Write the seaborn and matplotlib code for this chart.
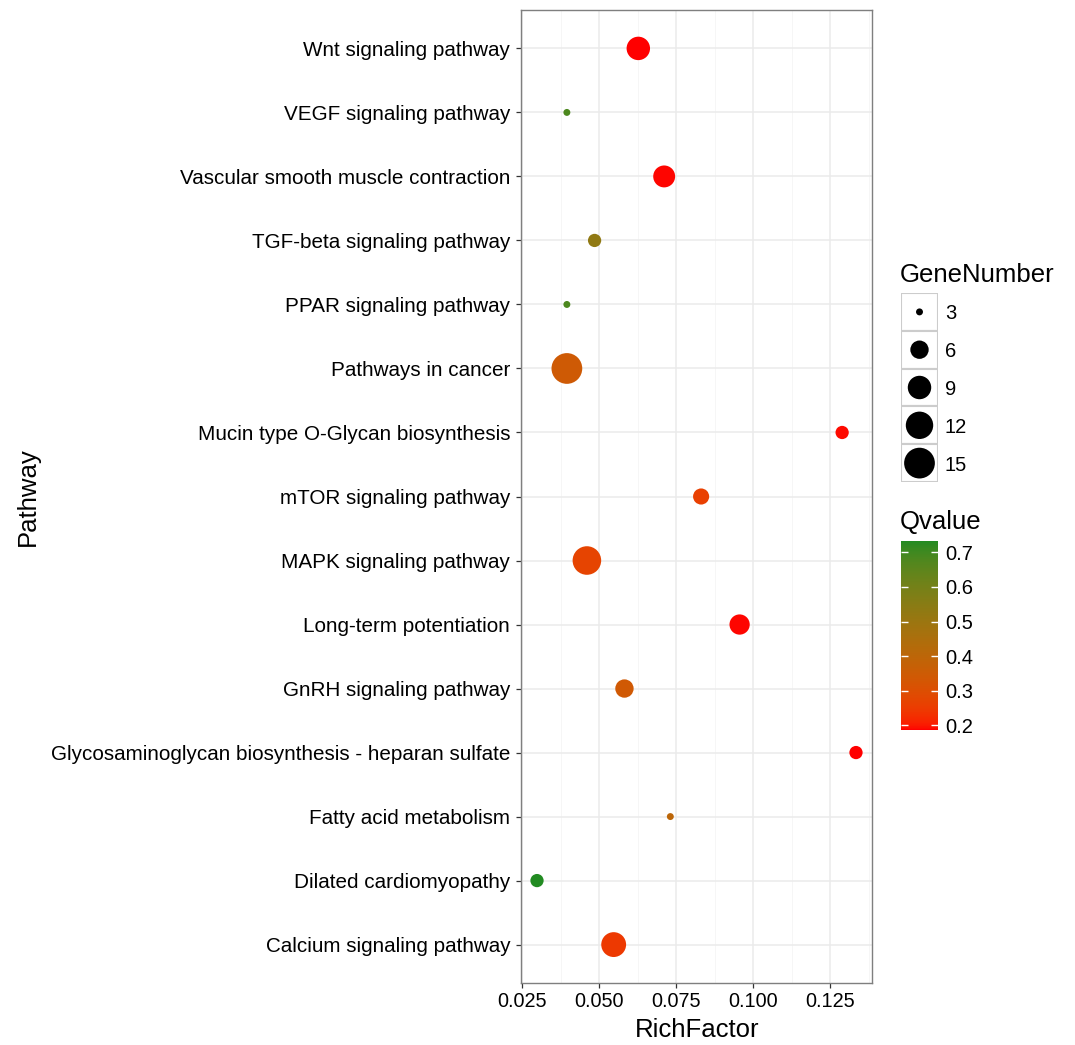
import numpy as np
import pandas as pd
import matplotlib
matplotlib.use("Agg")
import matplotlib.pyplot as plt
import matplotlib.colors as mcolors
from matplotlib.patches import Rectangle
import seaborn as sns

# data, bottom to top as in the figure
pathways = [
    "Calcium signaling pathway",
    "Dilated cardiomyopathy",
    "Fatty acid metabolism",
    "Glycosaminoglycan biosynthesis - heparan sulfate",
    "GnRH signaling pathway",
    "Long-term potentiation",
    "MAPK signaling pathway",
    "mTOR signaling pathway",
    "Mucin type O-Glycan biosynthesis",
    "Pathways in cancer",
    "PPAR signaling pathway",
    "TGF-beta signaling pathway",
    "Vascular smooth muscle contraction",
    "VEGF signaling pathway",
    "Wnt signaling pathway",
]
rich_factor = [0.0547, 0.0298, 0.0731, 0.1334, 0.0582, 0.0956, 0.0460, 0.0831,
               0.1289, 0.0395, 0.0395, 0.0485, 0.0711, 0.0395, 0.0627]
gene_number = [10, 4, 3, 4, 6, 7, 13, 5, 4, 15, 3, 4, 8, 3, 9]
qvalue = [0.245, 0.733, 0.40, 0.187, 0.34, 0.190, 0.27, 0.26,
          0.192, 0.345, 0.68, 0.53, 0.189, 0.68, 0.186]

legend_sizes = [3, 6, 9, 12, 15]
q_ticks = [0.2, 0.3, 0.4, 0.5, 0.6, 0.7]

df = pd.DataFrame({"Pathway": pathways, "RichFactor": rich_factor,
                   "GeneNumber": gene_number, "Qvalue": qvalue})


# red -> forestgreen gradient interpolated in CIELAB (like ggplot)
M = np.array([[0.4124, 0.3576, 0.1805],
              [0.2126, 0.7152, 0.0722],
              [0.0193, 0.1192, 0.9505]])
WHITE = M @ np.ones(3)
D = 6 / 29


def to_lab(rgb):
    c = np.asarray(rgb, float)
    lin = np.where(c <= 0.04045, c / 12.92, ((c + 0.055) / 1.055) ** 2.4)
    t = (M @ lin) / WHITE
    f = np.where(t > D ** 3, np.cbrt(t), t / (3 * D ** 2) + 4 / 29)
    return np.array([116 * f[1] - 16, 500 * (f[0] - f[1]), 200 * (f[1] - f[2])])


def from_lab(lab):
    L, a, b = lab
    fy = (L + 16) / 116
    f = np.array([fy + a / 500, fy, fy - b / 200])
    t = np.where(f > D, f ** 3, 3 * D ** 2 * (f - 4 / 29))
    lin = np.linalg.solve(M, t * WHITE)
    lin = np.clip(lin, 0, 1)
    return np.where(lin <= 0.0031308, 12.92 * lin, 1.055 * lin ** (1 / 2.4) - 0.055)


lo_lab = to_lab(mcolors.to_rgb("red"))
hi_lab = to_lab(mcolors.to_rgb("forestgreen"))
ramp = [from_lab(lo_lab + (hi_lab - lo_lab) * t) for t in np.linspace(0, 1, 256)]
cmap = mcolors.ListedColormap(np.clip(ramp, 0, 1))
q_norm = mcolors.Normalize(vmin=min(qvalue), vmax=max(qvalue))

# ggplot-like area scale for point size
size_norm = mcolors.FuncNorm(
    (lambda n: (1 + 5 * np.sqrt(np.clip((np.asarray(n, float) - 3) / 12, 0, None))) ** 2,
     lambda a: 3 + 12 * ((np.sqrt(np.asarray(a, float)) - 1) / 5) ** 2),
    vmin=3, vmax=15)
size_range = (25, 490)

plt.rcParams["font.family"] = ["Liberation Sans", "DejaVu Sans"]

W, H = 1075, 1045
fig = plt.figure(figsize=(W / 100, H / 100), dpi=100)
ax = fig.add_axes([521 / W, 1 - 983 / H, 351 / W, 973 / H])

sns.scatterplot(data=df, x="RichFactor", y="Pathway", hue="Qvalue", size="GeneNumber",
                palette=cmap, hue_norm=q_norm, sizes=size_range, size_norm=size_norm,
                linewidth=0, alpha=1, legend=False, ax=ax, zorder=3)

ax.set_ylim(-0.6, len(pathways) - 0.4)
ax.set_xlim(0.0246, 0.1386)
ax.set_xticks([0.025, 0.050, 0.075, 0.100, 0.125])
ax.set_xticklabels(["0.025", "0.050", "0.075", "0.100", "0.125"])
ax.set_xticks([0.0375, 0.0625, 0.0875, 0.1125, 0.1375], minor=True)
ax.grid(True, which="major", color="#ebebeb", linewidth=1.1, zorder=0)
ax.grid(True, which="minor", axis="x", color="#f5f5f5", linewidth=0.6, zorder=0)
ax.set_axisbelow(True)
ax.tick_params(axis="both", which="major", length=3.8, width=0.9, color="#333333",
               labelsize=14.9, labelcolor="black", pad=4)
ax.tick_params(axis="x", which="minor", length=0)
ax.tick_params(axis="x", labelsize=14.3, pad=3)
for s in ax.spines.values():
    s.set_color("#7f7f7f")
    s.set_linewidth(1.0)
ax.set_xlabel("")
ax.set_ylabel("")

fig.text(697 / W, 1 - 1030 / H, "RichFactor", fontsize=18.5, ha="center", va="center")
fig.text(28 / W, 1 - 497 / H, "Pathway", fontsize=18.5, rotation=90, ha="center", va="center")

# size legend
fig.text(900 / W, 1 - 275 / H, "GeneNumber", fontsize=18.5, ha="left", va="center")
lax = fig.add_axes([901 / W, 1 - 482 / H, 37 / W, 189 / H])
lax.set_xlim(0, 1)
lax.set_ylim(len(legend_sizes), 0)
for i in range(len(legend_sizes)):
    lax.add_patch(Rectangle((0, i), 1, 1, facecolor="white", edgecolor="#cccccc", linewidth=1.5))
leg_df = pd.DataFrame({"x": [0.5] * len(legend_sizes),
                       "y": np.arange(len(legend_sizes)) + 0.5,
                       "GeneNumber": legend_sizes})
sns.scatterplot(data=leg_df, x="x", y="y", size="GeneNumber", sizes=size_range,
                size_norm=size_norm, color="black", linewidth=0, legend=False, ax=lax, zorder=3)
lax.set_xlim(0, 1)
lax.set_ylim(len(legend_sizes), 0)
lax.set_yticks(leg_df["y"])
lax.set_yticklabels([str(v) for v in legend_sizes])
lax.tick_params(axis="y", left=False, right=True, labelleft=False, labelright=True,
                length=0, labelsize=14.5, pad=5)
lax.set_xticks([])
lax.set_xlabel("")
lax.set_ylabel("")
for s in lax.spines.values():
    s.set_visible(False)

# colour bar
fig.text(900 / W, 1 - 522 / H, "Qvalue", fontsize=18.5, ha="left", va="center")
cax = fig.add_axes([901 / W, 1 - 730 / H, 37 / W, 189 / H])
sm = plt.cm.ScalarMappable(norm=q_norm, cmap=cmap)
cb = fig.colorbar(sm, cax=cax, ticks=q_ticks)
cb.outline.set_visible(False)
cax.yaxis.set_ticks_position("both")
cax.tick_params(axis="y", direction="in", length=5, width=1.0, color="white",
                labelleft=False, labelright=True, labelsize=14.5, pad=5)
cax.set_yticklabels([f"{v:.1f}" for v in q_ticks])

fig.savefig("out.png", dpi=100)
